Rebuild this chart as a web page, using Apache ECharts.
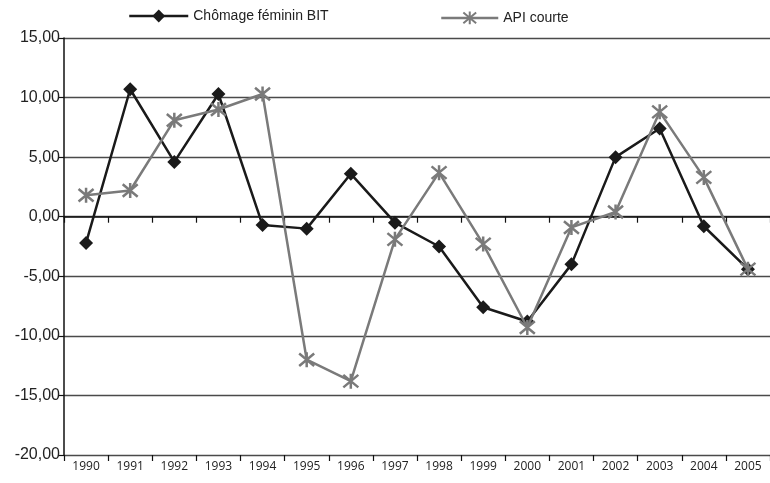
<!DOCTYPE html>
<html>
<head>
<meta charset="utf-8">
<script src="https://cdn.jsdelivr.net/npm/echarts@6/dist/echarts.min.js"></script>
<style>
  html, body { margin: 0; padding: 0; background: #fff; }
  #main { width: 770px; height: 483px; }
</style>
</head>
<body>
<div id="main"></div>
<script>
const years = ['1990','1991','1992','1993','1994','1995','1996','1997','1998','1999','2000','2001','2002','2003','2004','2005'];
const chomageFeminin = [-2.2, 10.7, 4.6, 10.3, -0.7, -1.0, 3.6, -0.5, -2.5, -7.6, -8.8, -4.0, 5.0, 7.4, -0.8, -4.4];
const apiCourte = [1.8, 2.2, 8.1, 9.0, 10.3, -12.0, -13.8, -1.9, 3.7, -2.3, -9.3, -0.9, 0.4, 8.8, 3.3, -4.4];

const sans = '"Liberation Sans Narrow", "Arial Narrow", "Liberation Sans", sans-serif';
const star = 'path://M0,0L10,10M10,0L0,10M5,-1L5,11';

const chart = echarts.init(document.getElementById('main'));
chart.setOption({
  animation: false,
  backgroundColor: '#fff',
  grid: { left: 64, right: -4, top: 38, bottom: 28 },
  legend: [
    {
      left: 128, top: 9, padding: 0,
      itemWidth: 59, itemHeight: 16,
      lineStyle: { width: 2.5 },
      textStyle: { fontFamily: sans, fontSize: 14, color: '#222' },
      data: ['Chômage féminin BIT']
    },
    {
      left: 440, top: 9, padding: 0,
      itemWidth: 57, itemHeight: 16,
      lineStyle: { width: 2.5 },
      textStyle: { fontFamily: sans, fontSize: 14, color: '#222' },
      data: ['API courte']
    }
  ],
  xAxis: [
    {
      type: 'category',
      data: years,
      boundaryGap: true,
      axisLine: { onZero: true, lineStyle: { color: '#111', width: 1.5 } },
      axisTick: { show: true, length: 6, lineStyle: { color: '#111', width: 1.2 } },
      axisLabel: { show: false },
      splitLine: { show: false }
    },
    {
      type: 'category',
      data: years,
      position: 'bottom',
      boundaryGap: true,
      axisLine: { show: false, onZero: false },
      axisTick: { show: true, length: 6, lineStyle: { color: '#111', width: 1.2 } },
      axisLabel: { margin: 6, fontFamily: '"Open Sans", "Noto Sans", sans-serif', fontSize: 12, color: '#222' },
      splitLine: { show: false }
    }
  ],
  yAxis: {
    type: 'value',
    min: -20, max: 15, interval: 5,
    axisLine: { show: true, lineStyle: { color: '#111', width: 1.5 } },
    axisTick: { show: true, length: 6, lineStyle: { color: '#111', width: 1.2 } },
    axisLabel: {
      margin: 4,
      fontFamily: sans, fontSize: 16, color: '#222',
      formatter: v => v.toFixed(2).replace('.', ',')
    },
    splitLine: { lineStyle: { color: '#4a4a4a', width: 1.3 } }
  },
  series: [
    {
      name: 'Chômage féminin BIT',
      type: 'line',
      data: chomageFeminin,
      symbol: 'diamond',
      symbolSize: 14,
      lineStyle: { color: '#1a1a1a', width: 2.5 },
      itemStyle: { color: '#1a1a1a' },
      z: 3
    },
    {
      name: 'API courte',
      type: 'line',
      data: apiCourte,
      symbol: star,
      symbolSize: 15,
      lineStyle: { color: '#7a7a7a', width: 2.5 },
      itemStyle: { color: 'none', borderColor: '#7a7a7a', borderWidth: 2.5 },
      z: 4
    }
  ]
});
</script>
</body>
</html>
